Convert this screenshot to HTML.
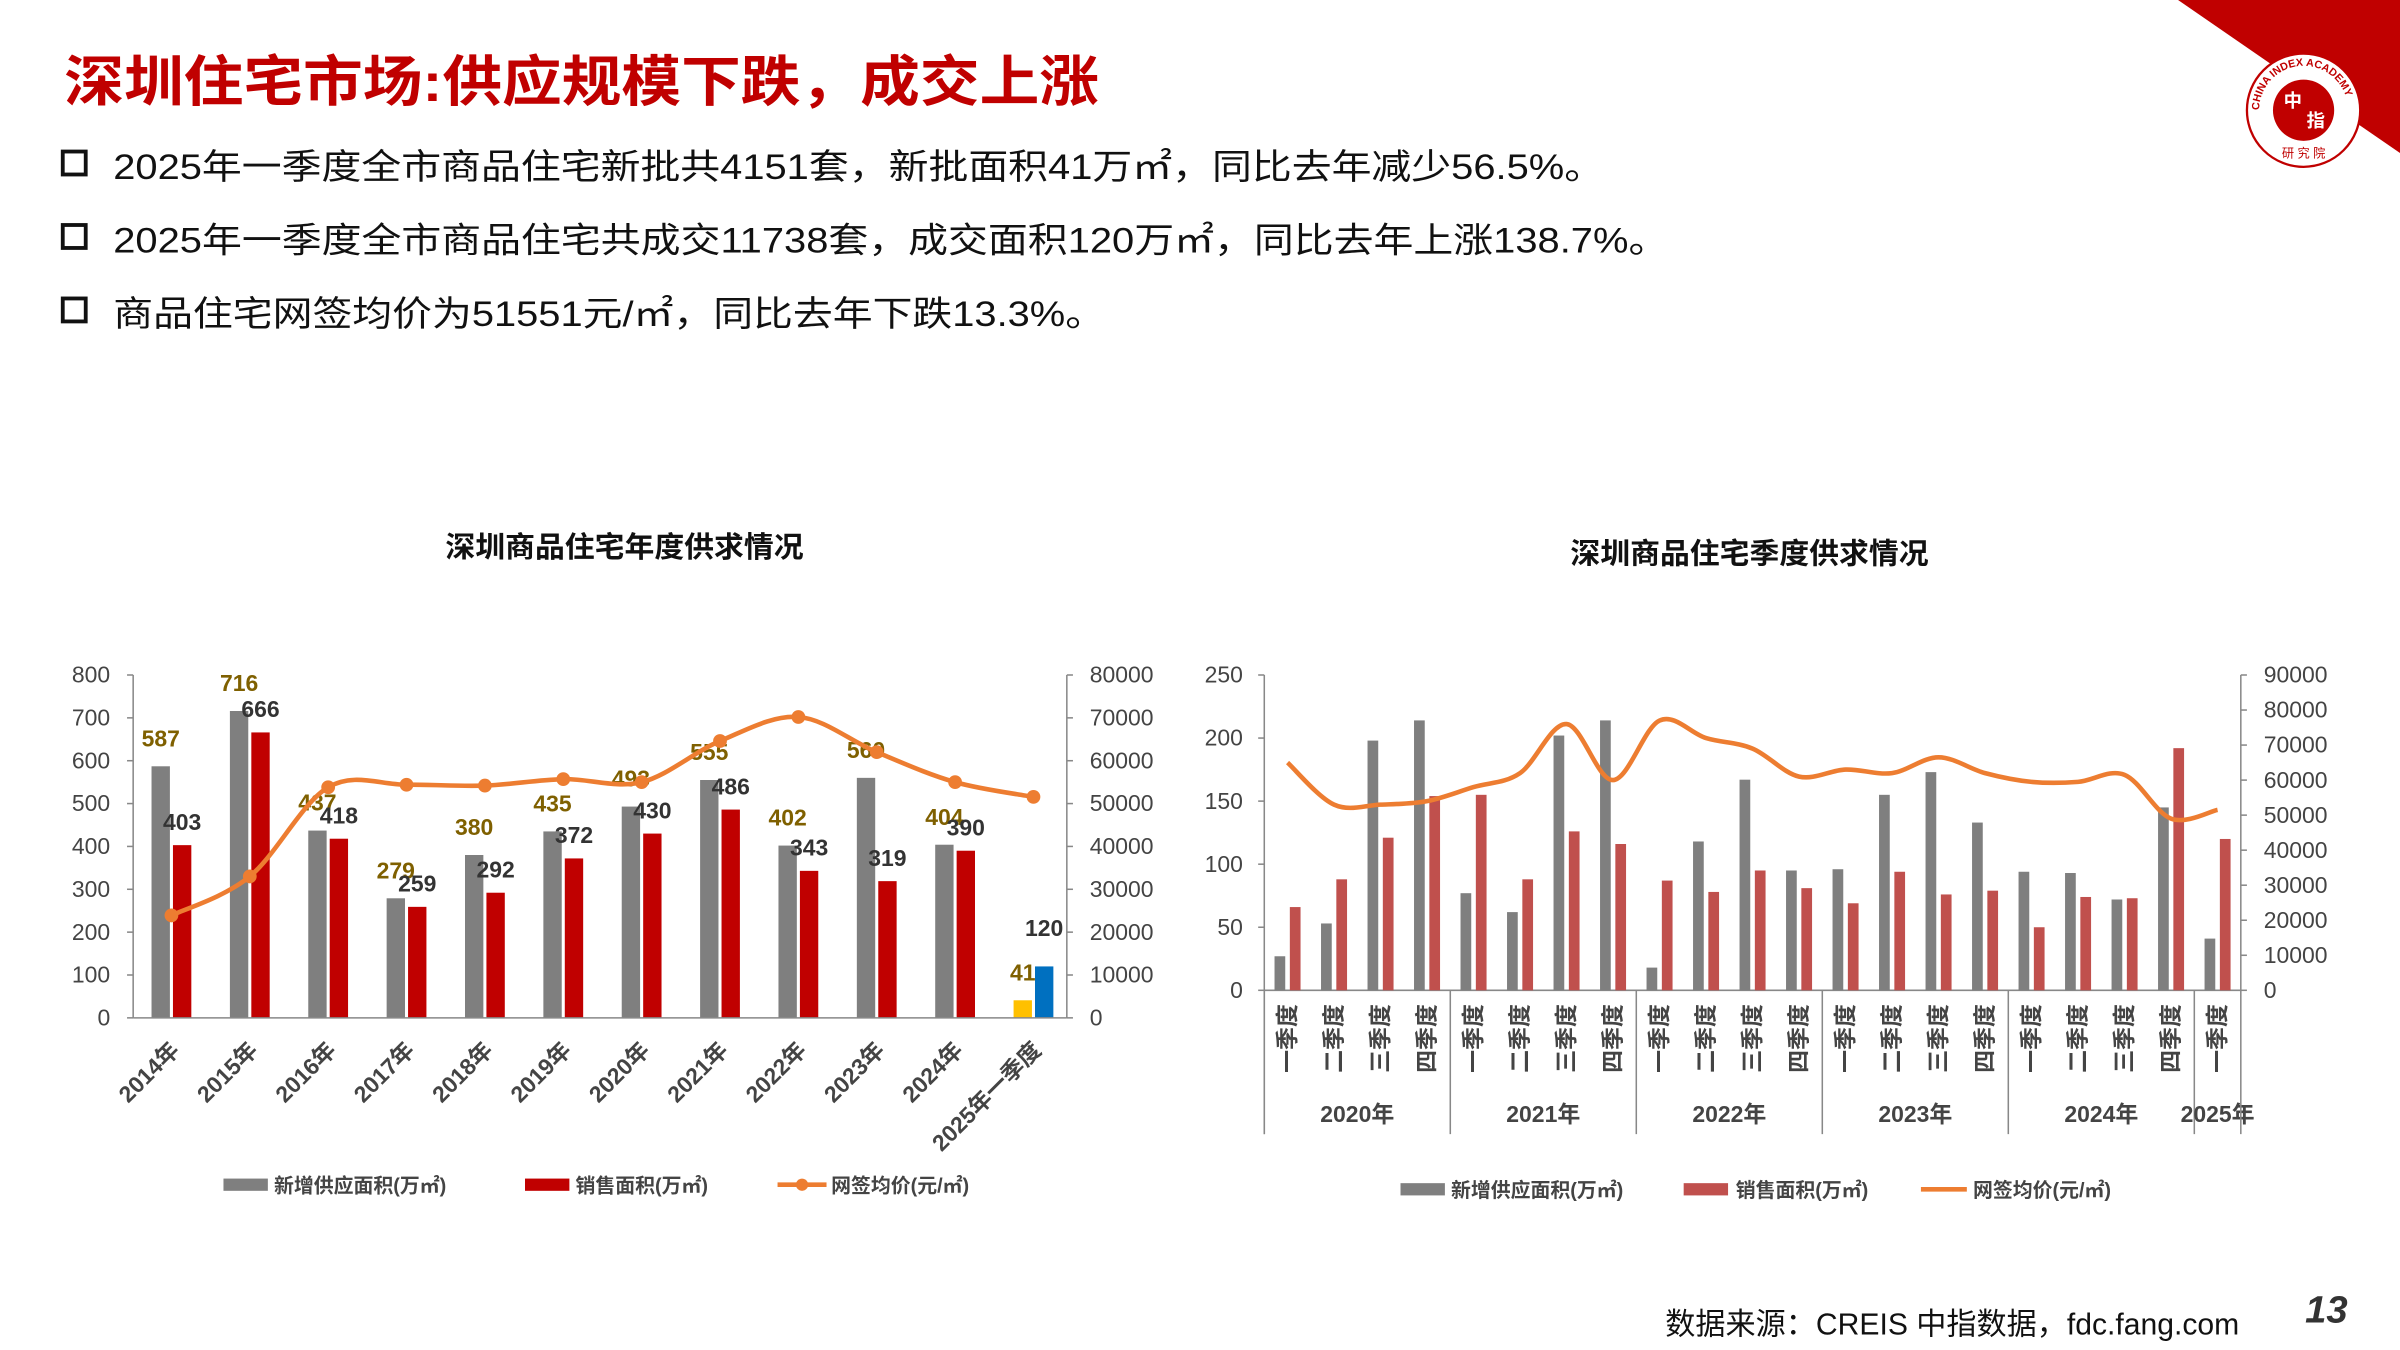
<!DOCTYPE html>
<html><head><meta charset="utf-8">
<style>
html,body{margin:0;padding:0;background:#fff;width:2400px;height:1350px;overflow:hidden}
svg{display:block}
text{font-family:"Liberation Sans","Noto Sans CJK SC",sans-serif}
</style></head><body>
<svg id="s" width="2400" height="1350" viewBox="0 0 1568 882" xmlns="http://www.w3.org/2000/svg">
<defs><path id="arc" d="M1476,72 A29,29 0 0 1 1534,72"/></defs>
<polygon points="1423,0 1568,0 1568,100" fill="#c00000"/>
<circle cx="1505" cy="72" r="37" fill="#fff" stroke="#c00000" stroke-width="1.5"/>
<text font-size="7" fill="#c00000" font-weight="bold"><textPath href="#arc">CHINA INDEX ACADEMY</textPath></text>
<circle cx="1505" cy="72" r="20" fill="#c00000"/>
<text x="1498" y="70" font-size="12" fill="#fff" font-weight="bold" text-anchor="middle">中</text>
<text x="1513" y="83" font-size="12" fill="#fff" font-weight="bold" text-anchor="middle">指</text>
<text x="1505" y="103" font-size="8" fill="#c00000" text-anchor="middle">研 究 院</text>
<text x="42" y="66" font-size="36" font-weight="bold" fill="#c00000" textLength="676" lengthAdjust="spacingAndGlyphs">深圳住宅市场:供应规模下跌，成交上涨</text>
<g font-size="23" fill="#111">
<rect x="41" y="99" width="15" height="15" fill="none" stroke="#111" stroke-width="2.5"/>
<text x="74" y="117" textLength="974" lengthAdjust="spacingAndGlyphs">2025年一季度全市商品住宅新批共4151套，新批面积41万㎡，同比去年减少56.5%。</text>
<rect x="41" y="147" width="15" height="15" fill="none" stroke="#111" stroke-width="2.5"/>
<text x="74" y="165" textLength="1016" lengthAdjust="spacingAndGlyphs">2025年一季度全市商品住宅共成交11738套，成交面积120万㎡，同比去年上涨138.7%。</text>
<rect x="41" y="195" width="15" height="15" fill="none" stroke="#111" stroke-width="2.5"/>
<text x="74" y="213" textLength="648" lengthAdjust="spacingAndGlyphs">商品住宅网签均价为51551元/㎡，同比去年下跌13.3%。</text>
</g>
<text x="291" y="364" font-size="19" font-weight="bold" fill="#111" textLength="234" lengthAdjust="spacingAndGlyphs">深圳商品住宅年度供求情况</text>
<text x="1026" y="368" font-size="19" font-weight="bold" fill="#111" textLength="234" lengthAdjust="spacingAndGlyphs">深圳商品住宅季度供求情况</text>
<text x="1088" y="872" font-size="20" fill="#111" textLength="375" lengthAdjust="spacingAndGlyphs">数据来源：CREIS 中指数据，fdc.fang.com</text>
<text x="1506" y="864" font-size="25" font-weight="bold" font-style="italic" fill="#333">13</text>
<g id="c"></g>
</svg>
<script>
var g=document.getElementById('c'),h='';
function T(x,y,t,o){o=o||{};h+='<text x="'+x+'" y="'+y+'" font-size="'+(o.s||14)+'" fill="'+(o.f||'#444')+'"'+(o.a?' text-anchor="'+o.a+'"':'')+(o.w?' font-weight="bold"':'')+(o.t?' transform="'+o.t+'"':'')+'>'+t+'</text>';}
function L(x1,y1,x2,y2,c,w){h+='<line x1="'+x1+'" y1="'+y1+'" x2="'+x2+'" y2="'+y2+'" stroke="'+(c||'#888')+'" stroke-width="'+(w||1)+'"/>';}
function R(x,y,w,hh,c){h+='<rect x="'+x+'" y="'+y+'" width="'+w+'" height="'+hh+'" fill="'+c+'"/>';}
function smooth(p){var d='M'+p[0][0]+','+p[0][1];for(var i=0;i<p.length-1;i++){var p0=p[i-1]||p[i],p1=p[i],p2=p[i+1],p3=p[i+2]||p2;var c1=[p1[0]+(p2[0]-p0[0])/6,p1[1]+(p2[1]-p0[1])/6],c2=[p2[0]-(p3[0]-p1[0])/6,p2[1]-(p3[1]-p1[1])/6];d+=' C'+c1+' '+c2+' '+p2;}return d;}
var y0=665,yt=441,X0=87,X1=697;
var gv=[587,716,437,279,380,435,493,555,402,560,404,41],rv=[403,666,418,259,292,372,430,486,343,319,390,120];
var pv=[23900,33000,53800,54400,54200,55700,55000,64600,70200,62000,55000,51551];
var cats=['2014年','2015年','2016年','2017年','2018年','2019年','2020年','2021年','2022年','2023年','2024年','2025年一季度'];
for(var i=0;i<=8;i++){var y=y0-i*28;T(72,y+5,i*100,{a:'end',s:15});L(X0-4,y,X0,y);L(X1,y,X1+4,y);T(712,y+5,i*10000,{s:15});}
L(X0,yt,X0,y0);L(X1,yt,X1,y0);
var pts=[];
for(var i=0;i<12;i++){var cx=112+i*51.2;var gh=gv[i]*0.28,rh=rv[i]*0.28;
R(cx-13,y0-gh,12,gh,i==11?'#ffc000':'#7f7f7f');R(cx+1,y0-rh,12,rh,i==11?'#0070c0':'#c00000');
T(cx-7,y0-gh-13,gv[i],{f:'#7f6000',a:'middle',s:15,w:1});T(cx+7,y0-rh-10+(i==11?-10:0),rv[i],{f:'#333',a:'middle',s:15,w:1});
pts.push([cx,y0-pv[i]*0.0028]);T(cx+6,y0+22,cats[i],{a:'end',s:15,w:1,t:'rotate(-45 '+(cx+6)+' '+(y0+22)+')'});}
L(X0,y0,X1,y0,'#888');
h+='<path d="'+smooth(pts)+'" fill="none" stroke="#ed7d31" stroke-width="3"/>';
pts.forEach(function(p){h+='<circle cx="'+p[0]+'" cy="'+p[1]+'" r="4.5" fill="#ed7d31"/>';});
R(146,770,29,8,'#7f7f7f');T(179,779,'新增供应面积(万㎡)',{s:13,w:1});
R(343,770,29,8,'#c00000');T(376,779,'销售面积(万㎡)',{s:13,w:1});
L(508,774,540,774,'#ed7d31',3);h+='<circle cx="524" cy="774" r="4" fill="#ed7d31"/>';T(543,779,'网签均价(元/㎡)',{s:13,w:1});
var b0=647,A0=826,A1=1464,k=206/250,kp=206/90000;
for(var i=0;i<=5;i++){var y=b0-i*50*k;T(812,y+5,i*50,{a:'end',s:15});L(A0-4,y,A0,y);}
for(var i=0;i<=9;i++){var y=b0-i*10000*kp;L(A1,y,A1+4,y);T(1479,y+5,i*10000,{s:15});}
L(A0,441,A0,741);L(A1,441,A1,b0);L(A0,b0,A1,b0);
var G=[27,53,198,214,77,62,202,214,18,118,167,95,96,155,173,133,94,93,72,145,41];
var Rr=[66,88,121,154,155,88,126,116,87,78,95,81,69,94,76,79,50,74,73,192,120];
var P=[65000,53000,53000,54000,58000,62000,76000,60000,77000,72000,69000,61000,63000,62000,66500,62000,59500,59500,61500,49000,51500];
var q=['一季度','二季度','三季度','四季度'],w=(A1-A0)/21,pp=[];
for(var i=0;i<21;i++){var cx=A0+w*(i+0.5);R(cx-8.5,b0-G[i]*k,7,G[i]*k,'#7f7f7f');R(cx+1.5,b0-Rr[i]*k,7,Rr[i]*k,'#c0504d');pp.push([cx,b0-P[i]*kp]);
T(cx+5,b0+9,q[i%4],{a:'end',s:15,w:1,t:'rotate(-90 '+(cx+5)+' '+(b0+9)+')'});}
h+='<path d="'+smooth(pp)+'" fill="none" stroke="#ed7d31" stroke-width="3"/>';
var yrs=['2020年','2021年','2022年','2023年','2024年','2025年'];
for(var j=0;j<6;j++){var xs=A0+w*4*j;L(xs,b0,xs,741);var n=j<5?4:1;T(xs+w*n/2,733,yrs[j],{a:'middle',s:15,w:1});}
L(A1,b0,A1,741);
R(915,773,29,8,'#7f7f7f');T(948,782,'新增供应面积(万㎡)',{s:13,w:1});
R(1100,773,29,8,'#c0504d');T(1134,782,'销售面积(万㎡)',{s:13,w:1});
L(1255,777,1285,777,'#ed7d31',3);T(1289,782,'网签均价(元/㎡)',{s:13,w:1});
g.innerHTML=h;
</script>
</body></html>
